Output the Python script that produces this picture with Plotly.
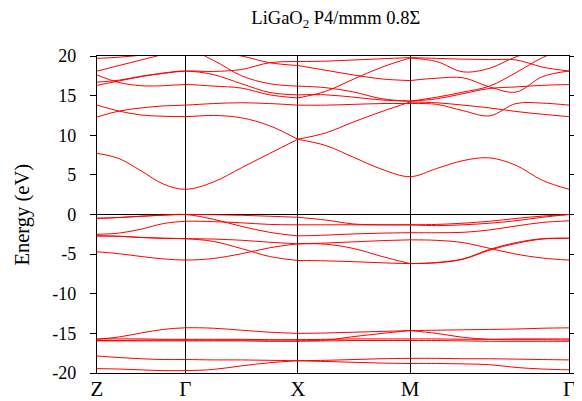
import plotly.graph_objects as go

# ---- path definition ----
HS_LABELS = ["Z", "Γ", "X", "M", "Γ"]
SEG_LEN = [0.786, 1.0, 1.0, 1.414]      # relative path lengths Z-Γ, Γ-X, X-M, M-Γ
SEG_DIV = [4, 4, 4, 6]                  # sample points per segment

# ---- band energies (eV) read at the sample points along Z-Γ-X-M-Γ ----
CB1 = [7.72, 7.05, 5.5, 3.85, 3.18, 4.1, 5.9, 7.7, 9.49, 8.7, 7.2, 5.7, 4.77, 5.8, 6.8, 7.15, 6.2, 4.3, 3.18]
BAND_A = [13.8, 13.05, 12.55, 12.4, 12.35, 12.5, 12.2, 11.2, 9.49, 10.3, 11.7, 13.0, 14.2, 14.1, 13.8, 13.45, 13.0, 12.65, 12.35]
BAND_B = [12.3, 13.05, 13.45, 13.7, 13.8, 14.0, 14.1, 14.0, 13.8, 13.8, 13.9, 14.0, 14.0, 13.9, 13.1, 12.45, 14.0, 14.05, 13.8]
BAND_C = [19.7, 19.85, 20.1, 20.4, 20.6, 20.45, 20.0, 19.15, 18.8, 18.2, 17.6, 17.1, 16.9, 17.2, 17.25, 16.1, 15.45, 17.4, 18.1]
BAND_D = [18.1, 18.8, 19.5, 20.2, 20.9, 19.45, 17.5, 16.5, 16.2, 16.0, 15.45, 14.6, 14.3, 14.6, 15.25, 15.9, 16.1, 16.3, 16.4]
BAND_E = [17.6, 16.65, 16.25, 16.25, 16.4, 16.2, 15.95, 15.1, 14.7, 15.55, 17.1, 18.6, 19.75, 19.3, 18.0, 18.45, 19.9, 20.8, 21.3]
BAND_F = [16.3, 16.85, 17.4, 17.8, 18.1, 18.05, 18.3, 19.15, 19.3, 19.35, 19.5, 19.65, 19.8, 19.7, 19.6, 19.55, 19.5, 18.6, 18.1]
BAND_G = [16.7, 16.95, 17.45, 17.85, 18.1, 17.65, 16.5, 15.4, 15.1, 15.1, 14.8, 14.45, 14.3, 14.8, 15.45, 16.2, 17.9, 19.8, 21.0]

V1A = [-0.48, -0.38, -0.22, -0.08, 0.0, -0.03, -0.1, -0.22, -0.35, -0.7, -1.2, -1.3, -1.3, -1.4, -1.3, -1.1, -0.78, -0.35, 0.0]
V1B = [-0.48, -0.38, -0.22, -0.08, 0.0, -0.6, -1.5, -2.25, -2.7, -2.6, -2.45, -2.35, -2.3, -2.3, -2.25, -1.95, -1.45, -1.0, -0.8]
V2 = [-2.5, -2.35, -1.85, -1.15, -0.86, -0.9, -1.05, -1.25, -1.3, -1.3, -1.3, -1.3, -1.3, -1.25, -1.1, -0.85, -0.5, -0.2, 0.0]
V3A = [-2.7, -2.75, -2.9, -3.0, -3.05, -3.1, -3.25, -3.5, -3.7, -3.6, -3.45, -3.3, -3.2, -3.26, -3.55, -4.27, -5.0, -5.5, -5.75]
V3B = [-2.7, -2.75, -2.9, -3.0, -3.05, -3.4, -4.3, -5.3, -5.8, -5.85, -5.95, -6.1, -6.2, -6.05, -5.6, -4.4, -3.55, -3.05, -3.0]
V4 = [-4.7, -4.95, -5.3, -5.6, -5.75, -5.55, -4.95, -4.2, -3.7, -3.75, -4.3, -5.3, -6.2, -6.1, -5.65, -4.5, -3.65, -3.1, -3.0]

S1 = [-15.75, -15.45, -14.95, -14.5, -14.3, -14.35, -14.6, -14.85, -15.0, -14.95, -14.85, -14.75, -14.65, -14.6, -14.55, -14.5, -14.45, -14.35, -14.3]
S2 = [-15.9, -15.9, -15.85, -15.85, -15.85, -15.85, -15.85, -15.85, -15.85, -15.85, -15.4, -15.0, -14.65, -15.0, -15.5, -15.75, -15.8, -15.8, -15.85]
S3 = [-15.7, -15.7, -15.7, -15.75, -15.75, -15.75, -15.75, -15.8, -15.8, -15.75, -15.7, -15.7, -15.7, -15.7, -15.75, -15.75, -15.7, -15.7, -15.7]
S4 = [-15.95, -15.95, -15.95, -15.95, -15.95, -15.95, -15.95, -16.0, -16.0, -15.95, -15.9, -15.9, -15.9, -15.9, -15.95, -16.0, -16.0, -16.0, -16.0]
S5 = [-17.85, -18.05, -18.2, -18.3, -18.3, -18.35, -18.35, -18.4, -18.45, -18.4, -18.3, -18.2, -18.15, -18.15, -18.2, -18.2, -18.25, -18.3, -18.35]
S6 = [-19.45, -19.5, -19.6, -19.7, -19.7, -19.55, -19.1, -18.7, -18.45, -18.55, -18.65, -18.75, -18.8, -18.8, -18.85, -18.95, -19.3, -19.5, -19.6]

BANDS = [CB1, BAND_A, BAND_B, BAND_C, BAND_D, BAND_E, BAND_F, BAND_G,
         V1A, V1B, V2, V3A, V3B, V4, S1, S2, S3, S4, S5, S6]
# high-symmetry points where a band's curve is allowed a sharp corner
BREAKS = [("X",)] + [("X", "M")] * (len(BANDS) - 1)

Y_TICKS = [-20, -15, -10, -5, 0, 5, 10, 15, 20]

# ---- k grid ----
k = [0.0]
hs_pos = [0.0]
for L, n in zip(SEG_LEN, SEG_DIV):
    start = k[-1]
    for i in range(1, n + 1):
        k.append(start + L * i / n)
    hs_pos.append(k[-1])
hs_idx_list = [0]
idx = 0
for n in SEG_DIV:
    idx += n
    hs_idx_list.append(idx)
name_to_idx = {"Γ": hs_idx_list[1], "X": hs_idx_list[2], "M": hs_idx_list[3]}

fig = go.Figure()
for band, brk in zip(BANDS, BREAKS):
    cut = sorted(name_to_idx[b] for b in brk)
    xs, ys = [], []
    prev = 0
    for c in cut + [len(k) - 1]:
        xs += k[prev:c + 1] + [None]
        ys += band[prev:c + 1] + [None]
        prev = c
    fig.add_trace(go.Scatter(x=xs, y=ys, mode="lines",
                             line=dict(color="#ff0000", width=1, shape="spline", smoothing=1.0),
                             connectgaps=False, showlegend=False, hoverinfo="skip"))

FONT = "Liberation Serif"
# the page body has an 8px margin, so the figure is 8px smaller than the window
fig.update_layout(
    width=574, height=393,
    margin=dict(l=89, r=13, t=48, b=28, autoexpand=False),
    paper_bgcolor="white", plot_bgcolor="white",
    title=dict(text="LiGaO<sub>2</sub> P4/mmm 0.8Σ", x=0.571, xanchor="center",
               y=1 - 9.5 / 393, yanchor="middle", yref="container",
               font=dict(family=FONT, size=18.5, color="black")),
    font=dict(family=FONT, size=17, color="black"),
)
fig.update_xaxes(range=[0, hs_pos[-1]], tickvals=hs_pos, ticktext=HS_LABELS,
                 showgrid=True, gridcolor="black", gridwidth=1,
                 showline=True, linecolor="black", linewidth=1.2, mirror=True,
                 ticks="", zeroline=False, automargin=False, ticklabelstandoff=-3,
                 tickfont=dict(family=FONT, size=21, color="black"))
fig.update_yaxes(range=[-20, 20], tickvals=Y_TICKS,
                 ticktext=[str(t) for t in Y_TICKS],
                 showgrid=False, zeroline=True, zerolinecolor="black", zerolinewidth=1,
                 showline=True, linecolor="black", linewidth=1.2, mirror="ticks",
                 ticks="outside", ticklen=6, tickcolor="black", tickwidth=1,
                 automargin=False, ticklabelstandoff=10,
                 tickfont=dict(family=FONT, size=18, color="black"))
fig.add_annotation(text="Energy (eV)", textangle=-90, xref="paper", yref="paper",
                   x=(22 - 97) / 472, y=0.5, xanchor="center", yanchor="middle",
                   showarrow=False, font=dict(family=FONT, size=20.5, color="black"))

fig.write_html("out.html")
